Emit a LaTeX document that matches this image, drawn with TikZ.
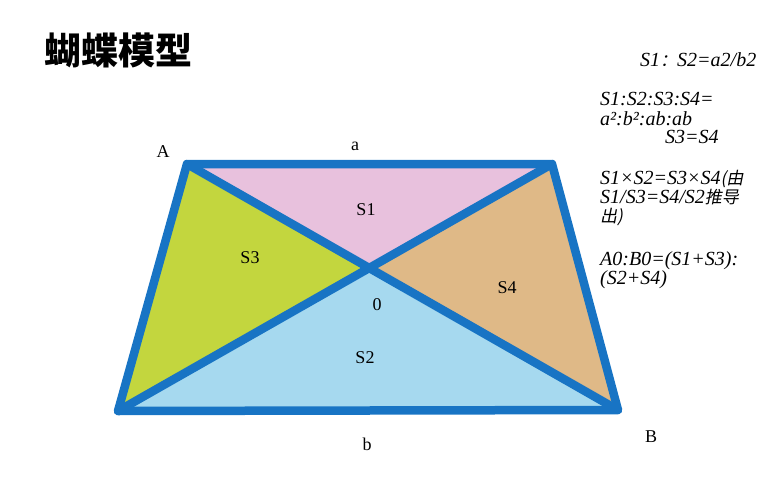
\documentclass[tikz,border=0pt]{standalone}
\usepackage{fontspec}
\setmainfont{Liberation Serif}
\newfontfamily\cjk{Noto Sans CJK SC}
\newfontfamily\cjkit{Noto Sans CJK SC}[FakeSlant=0.2,Scale=0.85]
\begin{document}
\begin{tikzpicture}[x=1pt,y=-1pt,
  edge/.style={line width=8.5pt, line join=round, line cap=round},
  lbl/.style={font=\fontsize{18}{18}\selectfont},
  note/.style={anchor=west, inner sep=0pt, text height=12pt, text depth=3pt, font=\fontsize{20}{20}\selectfont\itshape}]
\useasboundingbox (0,0) rectangle (784,500);
\definecolor{edgeblue}{HTML}{1874C4}
\definecolor{pinkS}{HTML}{E8C1DD}
\definecolor{greenS}{HTML}{C3D63E}
\definecolor{tanS}{HTML}{DFB987}
\definecolor{blueS}{HTML}{A6D9EF}
\coordinate (TL) at (187,164);
\coordinate (TR) at (552,164);
\coordinate (BL) at (118,411);
\coordinate (BR) at (618,410);
\coordinate (O) at (369,268);
\fill[pinkS] (TL) -- (TR) -- (O) -- cycle;
\fill[greenS] (TL) -- (O) -- (BL) -- cycle;
\fill[tanS] (TR) -- (BR) -- (O) -- cycle;
\fill[blueS] (BL) -- (BR) -- (O) -- cycle;
\draw[edge, draw=edgeblue] (TL) -- (TR) -- (BR) -- (BL) -- cycle;
\draw[edge, draw=edgeblue] (TL) -- (BR);
\draw[edge, draw=edgeblue] (TR) -- (BL);
\node[anchor=west, inner sep=0pt, font=\cjk\bfseries\fontsize{37}{37}\selectfont] (title) at (44,50) {蝴蝶模型};
\node[lbl] (lA) at (163,152) {A};
\node[lbl] (la) at (355,146) {a};
\node[lbl] (lB) at (651,437) {B};
\node[lbl] (lb) at (367,444) {b};
\node[lbl] (s1) at (366,210) {S1};
\node[lbl] (s3) at (250,258) {S3};
\node[lbl] (s4) at (507,288) {S4};
\node[lbl] (s2) at (365,358) {S2};
\node[lbl] (lO) at (377,305) {0};
\node[note] (n1) at (640,62) {S1{\cjkit ：}S2=a2/b2};
\node[note] (n2) at (600,101) {S1:S2:S3:S4=};
\node[note] (n3) at (600,121) {a²:b²:ab:ab};
\node[note] (n4) at (665,139) {S3=S4};
\node[note] (n5) at (600,180) {S1×S2=S3×S4{\cjkit (由}};
\node[note] (n6) at (600,199) {S1/S3=S4/S2{\cjkit 推导}};
\node[note] (n7) at (600,218) {{\cjkit 出)}};
\node[note] (n8) at (600,261) {A0:B0=(S1+S3):};
\node[note] (n9) at (600,280) {(S2+S4)};
\end{tikzpicture}
\end{document}
